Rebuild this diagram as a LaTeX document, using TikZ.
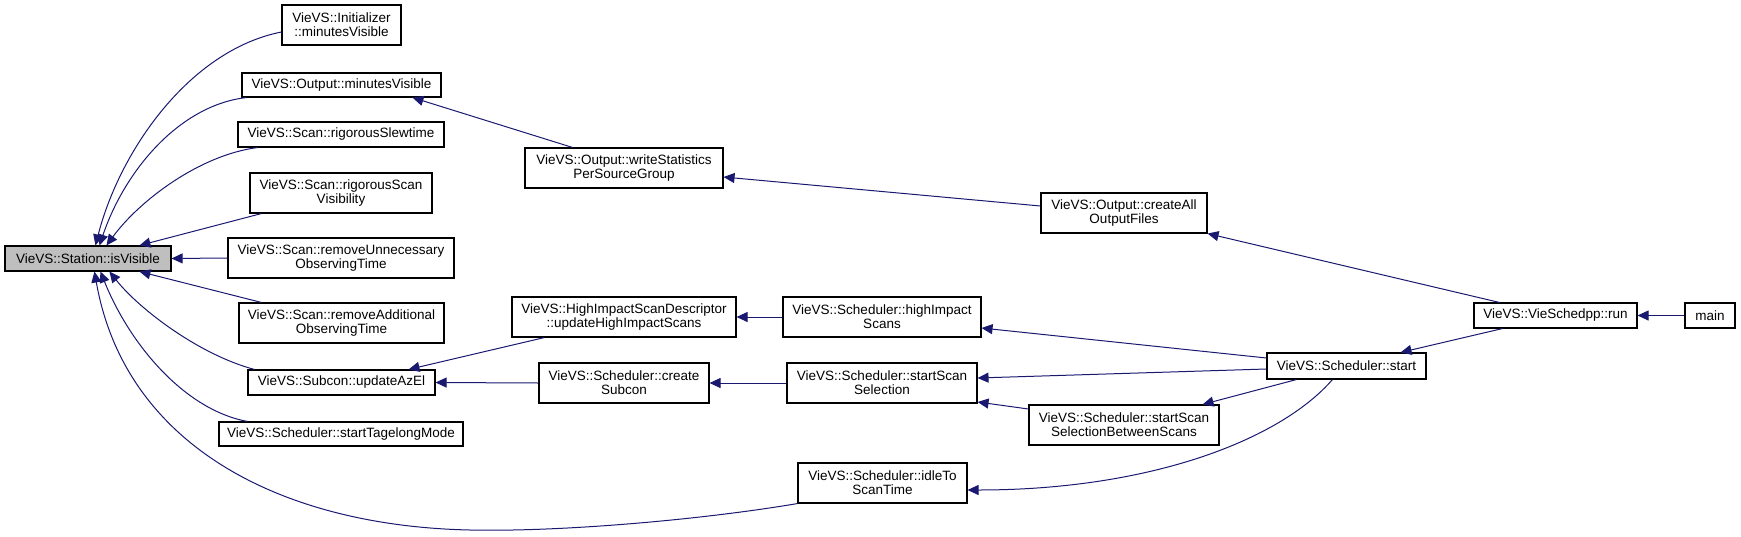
\documentclass[tikz,border=0pt]{standalone}
\usepackage{fontspec}
\setmainfont{Liberation Sans}
\usetikzlibrary{arrows.meta,calc}
\definecolor{edgecol}{HTML}{191970}
\definecolor{grayfill}{HTML}{BFBFBF}
\begin{document}
\begin{tikzpicture}[x=1pt,y=-1pt,
  box/.style={draw=black,line width=1.1pt,fill=white,inner sep=0pt,align=center,
    font=\fontsize{13.5}{14.2}\selectfont},
  edge/.style={draw=edgecol,line width=1pt,{Triangle[length=11pt,width=10pt,fill=edgecol]}-}]
\useasboundingbox (0,0) rectangle (1741,536);
% nodes
\node[box,fill=grayfill,minimum width=166,minimum height=25] (vis) at (88,258.5) {VieVS::Station::isVisible};
\node[box,minimum width=119,minimum height=40] (initmv) at (341.5,25) {VieVS::Initializer\\::minutesVisible};
\node[box,minimum width=199,minimum height=24] (outmv) at (341.5,85) {VieVS::Output::minutesVisible};
\node[box,minimum width=206,minimum height=25] (slew) at (341,134.5) {VieVS::Scan::rigorousSlewtime};
\node[box,minimum width=182,minimum height=40] (rsv) at (341,193) {VieVS::Scan::rigorousScan\\Visibility};
\node[box,minimum width=226,minimum height=40] (unn) at (341,258) {VieVS::Scan::removeUnnecessary\\ObservingTime};
\node[box,minimum width=205,minimum height=40] (add) at (341.5,323) {VieVS::Scan::removeAdditional\\ObservingTime};
\node[box,minimum width=187,minimum height=25] (azel) at (341.5,382.5) {VieVS::Subcon::updateAzEl};
\node[box,minimum width=244,minimum height=24] (tage) at (341,434) {VieVS::Scheduler::startTagelongMode};
\node[box,minimum width=198,minimum height=40] (wsps) at (624,168) {VieVS::Output::writeStatistics\\PerSourceGroup};
\node[box,minimum width=224,minimum height=40] (hisd) at (624,317) {VieVS::HighImpactScanDescriptor\\::updateHighImpactScans};
\node[box,minimum width=170,minimum height=40] (csub) at (624,383) {VieVS::Scheduler::create\\Subcon};
\node[box,minimum width=198,minimum height=40] (hi) at (882,317) {VieVS::Scheduler::highImpact\\Scans};
\node[box,minimum width=190,minimum height=40] (sss) at (882,383) {VieVS::Scheduler::startScan\\Selection};
\node[box,minimum width=169,minimum height=40] (idle) at (882.5,483) {VieVS::Scheduler::idleTo\\ScanTime};
\node[box,minimum width=166,minimum height=40] (cao) at (1124,213) {VieVS::Output::createAll\\OutputFiles};
\node[box,minimum width=190,minimum height=40] (ssb) at (1124,425) {VieVS::Scheduler::startScan\\SelectionBetweenScans};
\node[box,minimum width=159,minimum height=26] (start) at (1346.5,366) {VieVS::Scheduler::start};
\node[box,minimum width=163,minimum height=25] (run) at (1555.5,315.5) {VieVS::VieSchedpp::run};
\node[box,minimum width=50,minimum height=25] (main) at (1710,315.5) {main};
% edges into isVisible
\draw[edge] ($(vis.north west)+(91,0)$) .. controls (120,150) and (190,50) .. ($(initmv.west)+(0,7)$);
\draw[edge] ($(vis.north west)+(95,0)$) .. controls (125,170) and (180,105) .. ($(outmv.south west)+(5,0)$);
\draw[edge] ($(vis.north west)+(102,0)$) .. controls (140,200) and (200,155) .. ($(slew.south west)+(20,0)$);
\draw[edge] ($(vis.north west)+(135,0)$) -- ($(rsv.south west)+(12,0)$);
\draw[edge] (vis.east) -- (unn.west);
\draw[edge] ($(vis.south west)+(135,0)$) -- ($(add.north west)+(23,0)$);
\draw[edge] ($(vis.south west)+(105,0)$) .. controls (140,310) and (200,355) .. ($(azel.north west)+(7,0)$);
\draw[edge] ($(vis.south west)+(96,0)$) .. controls (130,345) and (185,410) .. ($(tage.north west)+(29,0)$);
\draw[edge] ($(vis.south west)+(90,0)$) .. controls (125,445) and (280,526) .. (470,530) .. controls (560,532) and (700,520) .. (idle.south west);
% other edges
\draw[edge] ($(outmv.south west)+(171,0)$) -- ($(wsps.north west)+(48,0)$);
\draw[edge] ($(wsps.east)+(0,9)$) -- ($(cao.west)+(0,-7)$);
\draw[edge] (cao.south east) -- ($(run.north west)+(26,0)$);
\draw[edge] (run.east) -- (main.west);
\draw[edge] ($(start.north east)+(-26,0)$) -- ($(run.south west)+(29,0)$);
\draw[edge] ($(hi.east)+(0,11)$) -- ($(start.west)+(0,-8)$);
\draw[edge] ($(sss.east)+(0,-5)$) -- ($(start.west)+(0,3)$);
\draw[edge] ($(ssb.north east)+(-17,0)$) -- ($(start.south west)+(30,0)$);
\draw[edge] ($(sss.east)+(0,19)$) -- ($(ssb.west)+(0,-16)$);
\draw[edge] ($(idle.east)+(0,7)$) .. controls (1150,490) and (1280,440) .. ($(start.south west)+(66,0)$);
\draw[edge] (hisd.east) -- (hi.west);
\draw[edge] (csub.east) -- (sss.west);
\draw[edge] ($(azel.north east)+(-27,0)$) -- ($(hisd.south west)+(33,0)$);
\draw[edge] (azel.east) -- (csub.west);
\end{tikzpicture}
\end{document}
